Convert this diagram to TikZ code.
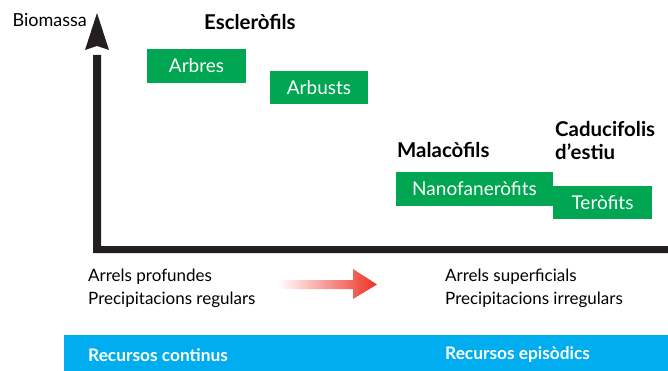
\documentclass[tikz,border=0pt]{standalone}
\usepackage{fontspec}
\setmainfont{Lato}
\definecolor{gr}{HTML}{00A651}
\definecolor{bl}{HTML}{00AEEF}
\definecolor{ax}{HTML}{231F20}
\definecolor{rd}{HTML}{EE3124}
\begin{document}
\begin{tikzpicture}[x=1pt,y=-1pt,
  gbox/.style={fill=gr,text=white,inner sep=0pt,font=\fontsize{19}{22}\selectfont},
  lab/.style={inner sep=0pt,anchor=west,font=\fontsize{17}{23}\selectfont},
  blab/.style={inner sep=0pt,anchor=west,font=\fontsize{20.4}{23}\selectfont\bfseries},
  wlab/.style={inner sep=0pt,anchor=west,text=white,font=\fontsize{17.3}{20}\selectfont\bfseries}]
\useasboundingbox (0,0) rectangle (668,371);
% axes
\fill[ax] (93,55) -- (93,253) -- (668,253) -- (668,246) -- (101,246) -- (101,55) -- cycle;
\fill[ax] (97,13) -- (109,50) -- (97,46) -- (85,50) -- cycle;
\node[lab,anchor=east,font=\fontsize{18}{20}\selectfont] (bio) at (87,20) {Biomassa};
% green boxes
\node[gbox,minimum width=99pt,minimum height=34pt] (arbres) at (196.5,66) {Arbres};
\node[gbox,minimum width=98pt,minimum height=33pt] (arbusts) at (319,87.5) {Arbusts};
\node[gbox,minimum width=157pt,minimum height=34pt] (nano) at (474.5,189) {Nanofaneròfits};
\node[gbox,minimum width=99pt,minimum height=33pt] (tero) at (602.5,202.5) {Teròfits};
% group labels
\node[blab] (escl) at (204,22) {Escleròfils};
\node[blab] (mala) at (397,150) {Malacòfils};
\node[blab,align=left] (cadu) at (555,141) {Caducifolis\\d’estiu};
% bottom texts
\node[lab,align=left] (left) at (88,288) {Arrels profundes\\Precipitacions regulars};
\node[lab,align=left] (right) at (445,288) {Arrels superficials\\Precipitacions irregulars};
% gradient arrow
\shade[left color=white,right color=rd] (278,280) -- (353,280) -- (353,269) -- (377,284.5) -- (353,299) -- (353,289) -- (278,289) -- cycle;
% blue bar
\fill[bl] (64,335) rectangle (668,371);
\node[wlab] (rc) at (88,355) {Recursos continus};
\node[wlab] (re) at (445,355) {Recursos episòdics};
\end{tikzpicture}
\end{document}
